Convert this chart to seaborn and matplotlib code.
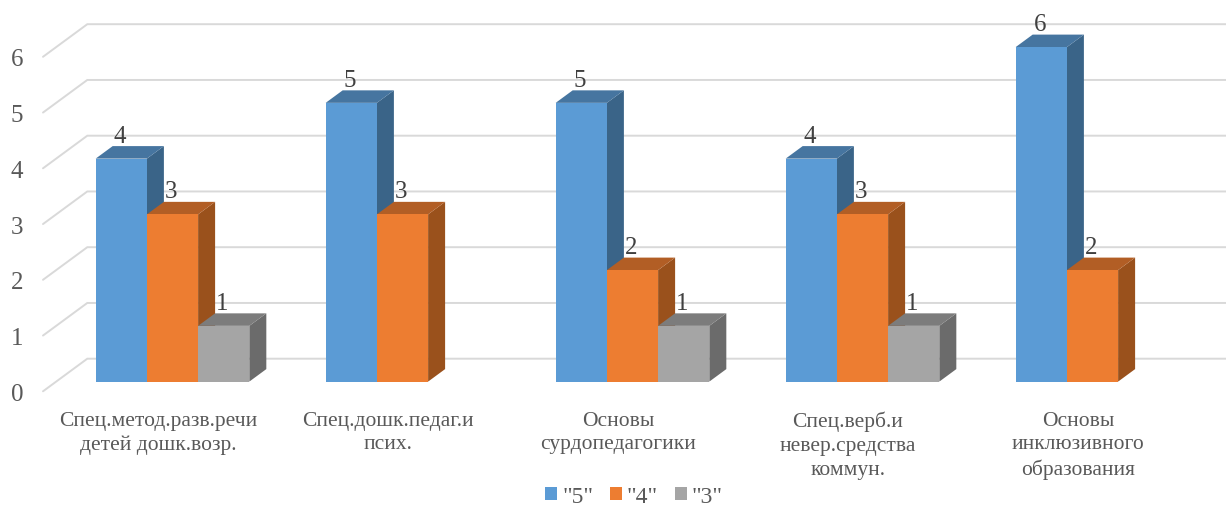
import matplotlib
matplotlib.use("Agg")
import matplotlib.pyplot as plt
from matplotlib.patches import Polygon
from matplotlib.transforms import ScaledTranslation
import pandas as pd
import seaborn as sns

# значения с диаграммы
subjects = [
    "Спец.метод.разв.речи\nдетей дошк.возр.",
    "Спец.дошк.педаг.и\nпсих.",
    "Основы\nсурдопедагогики",
    "Спец.верб.и\nневер.средства\nкоммун.",
    "Основы\nинклюзивного\nобразования",
]
grade_5 = [4, 5, 5, 4, 6]
grade_4 = [3, 3, 2, 3, 2]
grade_3 = [1, None, 1, 1, None]
grade_names = ['"5"', '"4"', '"3"']
y_ticks = [0, 1, 2, 3, 4, 5, 6]

colors = ["#5B9BD5", "#ED7D31", "#A5A5A5"]
top_colors = {"#5B9BD5": "#4675A0", "#ED7D31": "#B25E25", "#A5A5A5": "#7C7C7C"}
side_colors = {"#5B9BD5": "#3A6488", "#ED7D31": "#9A511C", "#A5A5A5": "#6B6B6B"}

W, H = 1226, 506
PX_X = 230.0   # пикселей на категорию
PX_Y = 55.75   # пикселей на единицу

df = pd.DataFrame({
    "subject": subjects * 3,
    "grade": [g for g in grade_names for _ in subjects],
    "count": grade_5 + grade_4 + grade_3,
})

sns.set_theme(style="white")
plt.rcParams["font.family"] = ["Liberation Serif", "DejaVu Serif"]

fig = plt.figure(figsize=(W / 100, H / 100), dpi=100)
ax = fig.add_axes([57.5 / W, (H - 382.6) / H, 5 * PX_X / W, 6 * PX_Y / H])
sns.barplot(
    data=df, x="subject", y="count", hue="grade", hue_order=grade_names,
    palette=colors, saturation=1, width=0.668, gap=0, linewidth=0, edgecolor="none", ax=ax,
)
ax.set_xlim(-0.5, 4.5)
ax.set_ylim(0, 6)
ax.set_xlabel("")
ax.set_ylabel("")
ax.set_yticks(y_ticks)
sns.despine(ax=ax, left=True, bottom=True, top=True, right=True)

# "стена" и "пол" диаграммы
wall_x = -0.5 - 14.5 / PX_X
for v in y_ticks:
    front_y = v - 9.7 / PX_Y
    back_y = v + 22.9 / PX_Y
    back_x = wall_x + 44.3 / PX_X
    ax.plot([wall_x, back_x, wall_x + 5 + 44.3 / PX_X], [front_y, back_y, back_y],
            color="#D9D9D9", lw=1.4, clip_on=False, zorder=1, solid_joinstyle="miter")

# объём столбцов
dx = 17 / PX_X
dy = 12.5 / PX_Y
bars = sorted([p for p in ax.patches if p.get_height() > 0], key=lambda p: p.get_x())
for i, bar in enumerate(bars):
    x0, x1 = bar.get_x(), bar.get_x() + bar.get_width()
    h = bar.get_height()
    c = matplotlib.colors.to_hex(bar.get_facecolor()).upper()
    ax.add_patch(Polygon([(x1, 0), (x1 + dx, dy), (x1 + dx, h + dy), (x1, h)],
                         facecolor=side_colors[c], edgecolor="none", clip_on=False, zorder=3 + i))
    ax.add_patch(Polygon([(x0, h), (x0 + dx, h + dy), (x1 + dx, h + dy), (x1, h)],
                         facecolor=top_colors[c], edgecolor="none", clip_on=False, zorder=3 + i))
    bar.set_zorder(3.5 + i)
    bar.set_clip_on(False)
    ax.annotate(f"{int(h)}", (x0 + bar.get_width() / 2, h), xytext=(-1.5, 23),
                textcoords="offset pixels", ha="center", va="center",
                fontsize=18, color="#404040", zorder=100, annotation_clip=False)

ax.tick_params(axis="both", length=0)
ax.tick_params(axis="y", labelsize=18, labelcolor="#595959", pad=24.5)
ax.tick_params(axis="x", labelsize=15.5, labelcolor="#595959", pad=21)
shift_y = ScaledTranslation(0, -9.7 / 100, fig.dpi_scale_trans)
shift_x = ScaledTranslation(-14.5 / 100, 0, fig.dpi_scale_trans)
for label in ax.get_yticklabels():
    label.set_transform(label.get_transform() + shift_y)
for label in ax.get_xticklabels():
    label.set_transform(label.get_transform() + shift_x)
    label.set_linespacing(1.33)

handles, labels = ax.get_legend_handles_labels()
ax.legend(handles, labels, ncol=3, frameon=False, loc="center",
          bbox_to_anchor=(634 / W, (H - 497.5) / H), bbox_transform=fig.transFigure,
          fontsize=17, labelcolor="#595959", handlelength=0.51, handleheight=0.51,
          handletextpad=0.2, columnspacing=0.72, borderpad=0)

fig.savefig("out.png", dpi=100)
plt.close(fig)
